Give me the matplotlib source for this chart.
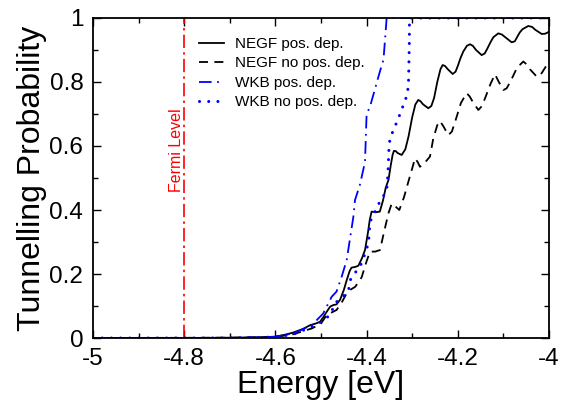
import numpy as np
import matplotlib.pyplot as plt

plt.rcParams['font.family'] = ['Liberation Sans', 'DejaVu Sans']
plt.rcParams['axes.unicode_minus'] = False

# NEGF with position dependent mass
negf_pos_x = [-5.0, -4.8, -4.7, -4.65, -4.6, -4.58, -4.561, -4.54, -4.524, -4.51, -4.502,
              -4.495, -4.4875, -4.48, -4.473, -4.466, -4.458, -4.45, -4.4436, -4.437, -4.433,
              -4.425, -4.418, -4.41, -4.4035, -4.397, -4.393, -4.389, -4.38, -4.371, -4.364,
              -4.358, -4.352, -4.347, -4.343, -4.34, -4.336, -4.332, -4.323, -4.315, -4.308,
              -4.3, -4.293, -4.2866, -4.282, -4.276, -4.2647, -4.258, -4.252, -4.245, -4.238,
              -4.2332, -4.228, -4.222, -4.2112, -4.205, -4.2, -4.194, -4.188, -4.18, -4.1732,
              -4.167, -4.16, -4.1477, -4.141, -4.135, -4.128, -4.122, -4.1111, -4.103, -4.096,
              -4.0819, -4.075, -4.07, -4.064, -4.058, -4.0454, -4.037, -4.03, -4.016, -4.008,
              -4.0]
negf_pos_y = [0.0, 0.0, 0.001, 0.002, 0.004, 0.01, 0.017, 0.028, 0.04, 0.046, 0.051,
              0.065, 0.082, 0.098, 0.103, 0.105, 0.12, 0.15, 0.181, 0.21, 0.22,
              0.222, 0.226, 0.25, 0.275, 0.33, 0.37, 0.395, 0.393, 0.395, 0.43,
              0.47, 0.494, 0.54, 0.572, 0.585, 0.584, 0.578, 0.572, 0.59, 0.63,
              0.69, 0.73, 0.744, 0.74, 0.73, 0.718, 0.725, 0.75, 0.8, 0.84,
              0.853, 0.85, 0.84, 0.825, 0.832, 0.85, 0.875, 0.895, 0.913, 0.918,
              0.913, 0.9, 0.884, 0.889, 0.905, 0.925, 0.94, 0.952, 0.948, 0.94,
              0.924, 0.927, 0.94, 0.955, 0.965, 0.975, 0.972, 0.963, 0.95, 0.951,
              0.957]

# NEGF without position dependent mass
negf_nopos_x = [-5.0, -4.7, -4.6, -4.56, -4.52, -4.5, -4.4875, -4.466, -4.455, -4.4436,
                -4.4364, -4.425, -4.4108, -4.4, -4.3925, -4.381, -4.3706, -4.362, -4.352,
                -4.345, -4.336, -4.3283, -4.318, -4.3085, -4.3, -4.2939, -4.288, -4.283,
                -4.271, -4.261, -4.2537, -4.245, -4.239, -4.231, -4.2208, -4.213, -4.205,
                -4.193, -4.1806, -4.174, -4.168, -4.155, -4.147, -4.14, -4.128, -4.1184,
                -4.11, -4.1, -4.093, -4.085, -4.07, -4.0563, -4.049, -4.042, -4.027,
                -4.02, -4.015, -4.0]
negf_nopos_y = [0.0, 0.001, 0.003, 0.012, 0.03, 0.045, 0.072, 0.0875, 0.11, 0.14,
                0.15, 0.16, 0.19, 0.24, 0.27, 0.27, 0.275, 0.33, 0.39,
                0.42, 0.41, 0.40, 0.44, 0.488, 0.53, 0.5615, 0.55, 0.535,
                0.55, 0.567, 0.624, 0.665, 0.678, 0.66, 0.634, 0.645, 0.68,
                0.735, 0.765, 0.755, 0.74, 0.7125, 0.725, 0.75, 0.795, 0.824,
                0.8, 0.775, 0.78, 0.8, 0.845, 0.864, 0.855, 0.84, 0.817,
                0.82, 0.83, 0.864]

# WKB with position dependent mass
wkb_pos_x = [-5.0, -4.7, -4.65, -4.6, -4.56, -4.52, -4.495, -4.4766, -4.466, -4.455,
             -4.4436, -4.429, -4.4254, -4.4145, -4.4035, -4.4, -4.3925, -4.371, -4.363,
             -4.356, -4.0]
wkb_pos_y = [0.0, 0.0, 0.001, 0.004, 0.015, 0.04, 0.077, 0.129, 0.145, 0.19,
             0.244, 0.379, 0.431, 0.48, 0.55, 0.70, 0.723, 0.832, 0.869,
             1.0, 1.0]

# WKB without position dependent mass
wkb_nopos_x = [-5.0, -4.7, -4.6, -4.56, -4.52, -4.5, -4.48, -4.469, -4.44, -4.436,
               -4.411, -4.396, -4.3925, -4.371, -4.356, -4.353, -4.351, -4.3487,
               -4.3304, -4.3136, -4.3083, -4.3063, -4.306, -4.0]
wkb_nopos_y = [0.0, 0.0, 0.003, 0.012, 0.035, 0.05, 0.072, 0.109, 0.145, 0.181,
               0.233, 0.296, 0.363, 0.426, 0.46, 0.52, 0.59, 0.624,
               0.686, 0.75, 0.785, 0.92, 1.0, 1.0]

fermi = -4.8

fig = plt.figure(figsize=(5.61, 4.05), dpi=100)
ax = fig.add_axes([0.1658, 0.1654, 0.8128, 0.7902])

ax.axvline(fermi, color='red', lw=1.2, ls=(0, (8, 2.5, 1.5, 2.5)))
ax.text(fermi - 0.017, 0.5875, 'Fermi Level', color='red', rotation=90,
        ha='center', va='center', fontsize=11.5)

ax.plot(negf_pos_x, negf_pos_y, color='black', lw=1.3, label='NEGF pos. dep.')
ax.plot(negf_nopos_x, negf_nopos_y, color='black', lw=1.3, ls=(0, (5, 3.5)),
        label='NEGF no pos. dep.')
ax.plot(wkb_pos_x, wkb_pos_y, color='blue', lw=1.3, ls=(0, (7, 3, 1, 3)),
        label='WKB pos. dep.')
ax.plot(wkb_nopos_x, wkb_nopos_y, color='blue', lw=2.2, ls=(0, (0.01, 3)),
        dash_capstyle='round', label='WKB no pos. dep.')

ax.set_xlim(-5, -4)
ax.set_ylim(0, 1)
ax.set_xticks([-5, -4.8, -4.6, -4.4, -4.2, -4])
ax.set_xticklabels(['-5', '-4.8', '-4.6', '-4.4', '-4.2', '-4'])
ax.set_yticks([0, 0.2, 0.4, 0.6, 0.8, 1])
ax.set_yticklabels(['0', '0.2', '0.4', '0.6', '0.8', '1'])
ax.set_xticks(np.arange(-4.9, -4.0, 0.2), minor=True)
ax.set_yticks(np.arange(0.1, 1.0, 0.2), minor=True)
ax.tick_params(which='both', direction='in', top=True, right=True, labelsize=17.5)
ax.tick_params(axis='x', pad=7)
ax.tick_params(axis='y', pad=7)
ax.tick_params(which='major', length=6, width=1)
ax.tick_params(which='minor', length=3.5, width=1)
for s in ax.spines.values():
    s.set_linewidth(1.3)

ax.set_xlabel('Energy [eV]', fontsize=23, labelpad=0)
ax.set_ylabel('Tunnelling Probability', fontsize=23, labelpad=2)

ax.legend(loc='upper left', bbox_to_anchor=(0.22, 0.96), frameon=False, fontsize=11,
          handlelength=1.6, handletextpad=0.7, labelspacing=0.36, borderaxespad=0)

fig.savefig('out.png', dpi=100)
